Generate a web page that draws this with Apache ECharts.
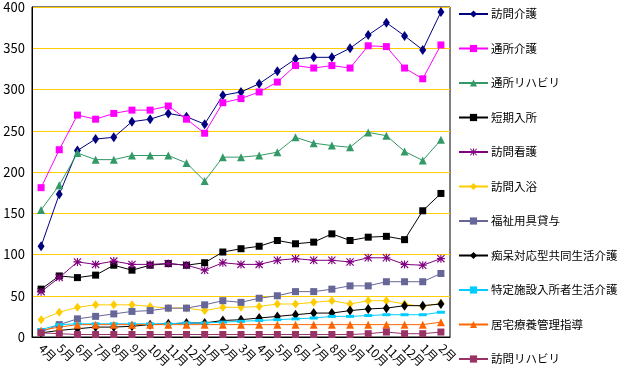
<!DOCTYPE html>
<html><head><meta charset="utf-8">
<script src="https://cdn.jsdelivr.net/npm/echarts@6/dist/echarts.min.js"></script>
<style>html,body{margin:0;padding:0;background:#fff}#c{width:619px;height:383px}</style>
</head><body><div id="c"></div>
<script>
const categories = ['4月','5月','6月','7月','8月','9月','10月','11月','12月','1月','2月','3月','4月','5月','6月','7月','8月','9月','10月','11月','12月','1月','2月'];
const yTicks = [0,50,100,150,200,250,300,350,400];
const seriesNames = ['訪問介護','通所介護','通所リハビリ','短期入所','訪問看護','訪問入浴','福祉用具貸与','痴呆対応型共同生活介護','特定施設入所者生活介護','居宅療養管理指導','訪問リハビリ'];
const houmonKaigo = [110,173,226,240,242,261,264,271,267,258,293,297,307,322,337,339,339,350,366,381,365,348,394];
const tsushoKaigo = [181,227,269,264,271,275,275,280,264,247,284,289,297,309,329,326,329,326,353,352,326,313,354];
const tsushoReha = [154,184,223,215,215,220,220,220,211,189,218,218,220,224,242,235,232,230,248,244,225,214,239];
const tankiNyusho = [58,74,72,75,87,81,87,89,87,90,103,107,110,117,113,115,125,117,121,122,118,153,174];
const houmonKango = [55,72,91,88,92,88,88,89,87,81,90,88,88,93,95,93,93,91,96,96,88,87,95];
const houmonNyuyoku = [21,30,36,39,39,39,37,35,35,32,36,36,37,40,40,42,44,40,44,44,40,37,41];
const fukushiYogu = [6,15,22,25,28,31,32,35,35,39,44,42,47,50,55,55,58,62,62,67,67,67,77];
const chihoKyodo = [5,8,10,12,12,13,15,16,17,17,20,21,23,25,27,29,29,32,34,35,38,38,40];
const tokuteiShisetsu = [9,15,16,16,16,16,16,16,17,17,18,19,20,21,22,23,25,25,26,27,27,27,30];
const kyotakuRyoyo = [8,12,15,15,15,15,15,15,15,15,15,15,15,15,15,15,15,15,15,15,15,15,18];
const houmonReha = [5,4,3,3,3,3,3,3,3,3,3,3,3,3,3,3,3,3,4,6,4,4,6];

const star = 'path://M4.3,0 L5.7,0 L5.7,10 L4.3,10Z M0,4.3 L10,4.3 L10,5.7 L0,5.7Z M0,1 L1,0 L10,9 L9,10Z M9,0 L10,1 L1,10 L0,9Z';
const dataList = [houmonKaigo,tsushoKaigo,tsushoReha,tankiNyusho,houmonKango,houmonNyuyoku,fukushiYogu,chihoKyodo,tokuteiShisetsu,kyotakuRyoyo,houmonReha];
const colors = ['#000080','#FF00FF','#339966','#000000','#800080','#FFCC00','#666699','#000000','#00CCFF','#FF6600','#993366'];
const symbols = ['diamond','rect','triangle','rect',star,'diamond','rect','diamond','rect','triangle','rect'];
const sizes = [[7,10],7,8,7,8,[7,9],7,[7,10],[8,3],8,7];

const font = '"Noto Sans CJK JP", sans-serif';
const chart = echarts.init(document.getElementById('c'), null, {renderer:'canvas'});
chart.setOption({
  animation: false,
  backgroundColor: '#fff',
  textStyle: {fontFamily: font},
  grid: {left: 32, right: 169, top: 7, bottom: 46, show: true, borderColor: '#000', borderWidth: 1, backgroundColor: '#fff'},
  legend: {
    orient: 'vertical', left: 453, top: 2, itemGap: 20.5, itemWidth: 29, itemHeight: 9,
    textStyle: {fontFamily: font, fontSize: 11.5, lineHeight: 14, color: '#000', padding: [0,0,0,-2]},
    data: seriesNames
  },
  xAxis: {
    type: 'category', data: categories, boundaryGap: true,
    axisLine: {lineStyle: {color: '#000', width: 1}},
    axisTick: {inside: true, length: 3, lineStyle: {color: '#000'}},
    axisLabel: {interval: 0, rotate: -45, fontSize: 12, color: '#000', fontFamily: font, margin: 9}
  },
  yAxis: {
    type: 'value', min: yTicks[0], max: yTicks[yTicks.length-1], interval: 50,
    axisLine: {show: true, lineStyle: {color: '#000', width: 1}},
    axisTick: {show: false},
    axisLabel: {fontSize: 13, color: '#000', fontFamily: font, margin: 7},
    splitLine: {lineStyle: {color: '#FFCC00', width: 1}}
  },
  series: seriesNames.map((n,i) => ({
    name: n, type: 'line', data: dataList[i],
    symbol: symbols[i], symbolSize: sizes[i], showAllSymbol: true,
    lineStyle: {color: colors[i], width: 1},
    itemStyle: {color: colors[i]}
  }))
});
</script></body></html>
